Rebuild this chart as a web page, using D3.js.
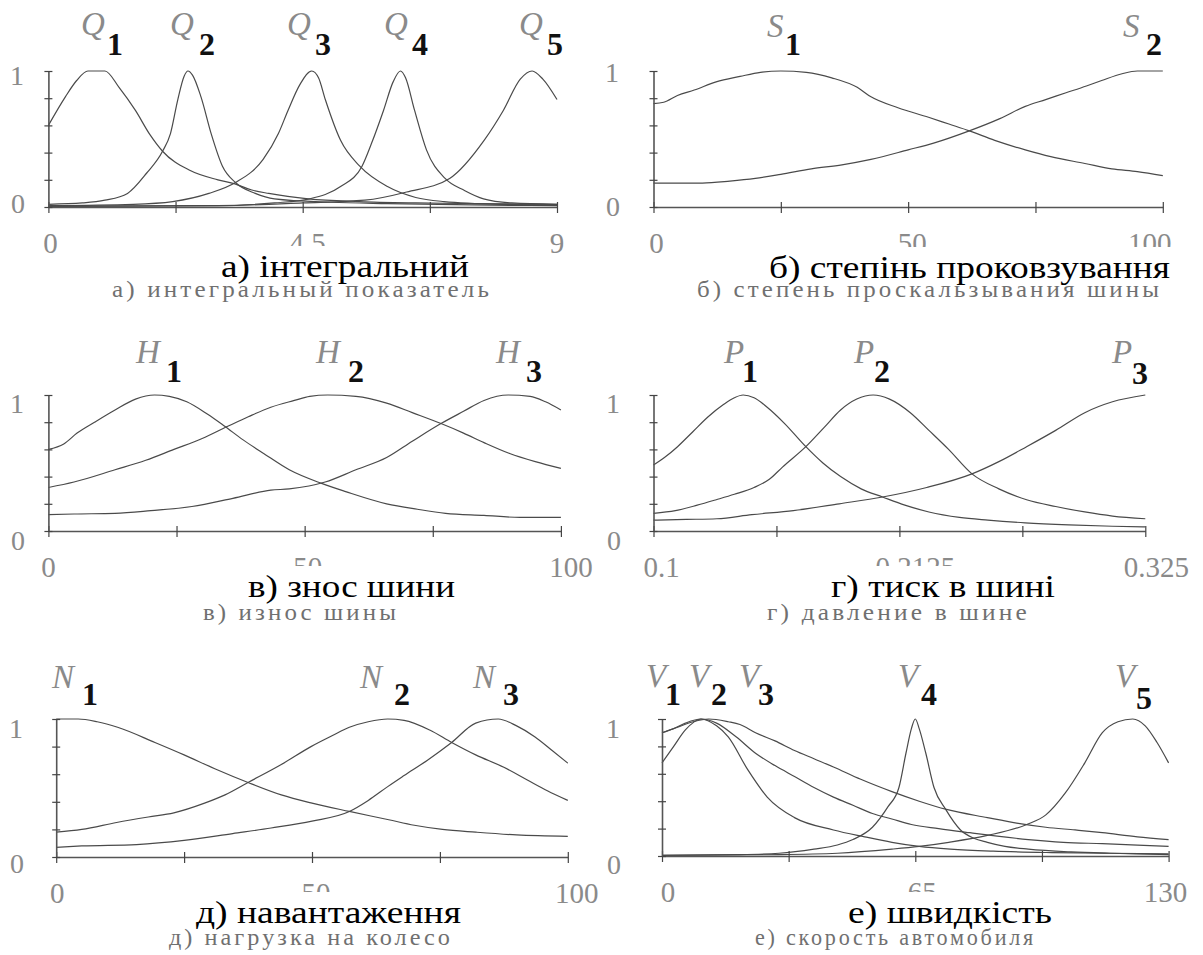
<!DOCTYPE html>
<html>
<head>
<meta charset="utf-8">
<script src="https://cdn.jsdelivr.net/npm/d3@7"></script>
<style>
  html, body { margin: 0; padding: 0; background: #fff; }
  svg { display: block; }
</style>
</head>
<body>
<svg id="chart" width="1203" height="955"></svg>
<script>
// ---- membership functions, points as [x, μ] ----

// а) integral index, x in [0, 9]
const Q1 = [[0,0.60],[0.3,0.81],[0.5,0.93],[0.7,1.0],[1.0,1.0],[1.25,0.88],[1.54,0.71],[1.8,0.53],[2.02,0.41],[2.5,0.27],[3.0,0.20],[3.3,0.17],[3.6,0.125],[3.9,0.10],[4.6,0.06],[5.5,0.04],[6.5,0.03],[7.5,0.025],[9,0.02]];
const Q2 = [[0,0.02],[0.6,0.03],[1.0,0.05],[1.4,0.10],[1.74,0.25],[2.02,0.41],[2.16,0.54],[2.29,0.79],[2.4,0.96],[2.47,1.0],[2.55,0.97],[2.7,0.81],[2.88,0.54],[3.08,0.30],[3.31,0.18],[3.66,0.10],[4.0,0.06],[5,0.035],[6,0.025],[7.5,0.015],[9,0.01]];
const Q3 = [[0,0.01],[1.5,0.02],[2.2,0.04],[2.84,0.10],[3.31,0.18],[3.8,0.35],[4.07,0.54],[4.24,0.71],[4.45,0.90],[4.66,1.0],[4.78,0.95],[4.9,0.79],[5.17,0.49],[5.51,0.30],[6.0,0.15],[6.5,0.07],[7.0,0.04],[8,0.02],[9,0.015]];
const Q4 = [[0,0.005],[3,0.01],[4.0,0.03],[4.62,0.06],[5.17,0.15],[5.55,0.30],[5.72,0.47],[5.93,0.71],[6.1,0.92],[6.23,1.0],[6.32,0.95],[6.48,0.71],[6.69,0.42],[7.02,0.21],[7.37,0.12],[7.7,0.06],[8.2,0.03],[9,0.02]];
const Q5 = [[0,0.005],[3,0.01],[4.5,0.03],[5.6,0.05],[6.34,0.11],[7.1,0.21],[7.71,0.49],[8.05,0.71],[8.35,0.94],[8.56,1.0],[8.75,0.94],[9,0.79]];

// б) tyre slip, x in [0, 100]
const S1 = [[0,0.76],[2,0.77],[4.7,0.82],[8,0.86],[12.3,0.92],[17,0.96],[21,0.99],[25,1.0],[30,0.99],[35,0.95],[40,0.88],[42.7,0.81],[48,0.73],[54,0.66],[58,0.61],[62,0.56],[67,0.49],[73,0.42],[78,0.37],[84.7,0.32],[90,0.28],[95,0.26],[100,0.23]];
const S2 = [[0,0.176],[9.6,0.176],[15,0.19],[20,0.21],[25,0.24],[31,0.28],[37,0.31],[42.7,0.35],[50,0.42],[55,0.47],[62,0.56],[68,0.65],[73,0.74],[77,0.79],[81,0.84],[85,0.89],[88,0.93],[92,0.98],[95,1.0],[100,1.0]];

// в) tyre wear, x in [0, 100]
const H1 = [[0,0.60],[3,0.64],[5.6,0.72],[9,0.80],[13,0.89],[17,0.97],[20.7,1.0],[23.6,0.99],[27,0.95],[31,0.86],[34.4,0.77],[38,0.67],[42,0.57],[47,0.45],[53.3,0.35],[58,0.29],[66,0.20],[72,0.16],[77.5,0.13],[85,0.115],[92,0.10],[100,0.10]];
const H2 = [[0,0.32],[5,0.36],[13,0.45],[19,0.52],[24.5,0.60],[30,0.68],[35,0.77],[39,0.84],[43.4,0.91],[48,0.96],[51,0.99],[54.5,1.0],[60,0.99],[66,0.94],[71,0.87],[76.6,0.79],[81,0.72],[85,0.65],[90,0.57],[95,0.51],[100,0.46]];
const H3 = [[0,0.12],[5,0.125],[13,0.13],[20,0.15],[28,0.18],[36,0.24],[43.4,0.30],[47,0.31],[54,0.36],[60,0.45],[66,0.54],[71,0.66],[76.6,0.79],[81,0.88],[85,0.96],[89.7,1.0],[94,0.99],[97,0.95],[100,0.89]];

// г) tyre pressure, x in [0.1, 0.325]
const P1 = [[0.1,0.485],[0.105,0.54],[0.111,0.62],[0.118,0.73],[0.125,0.84],[0.132,0.93],[0.137,0.98],[0.141,1.0],[0.146,0.98],[0.152,0.91],[0.16,0.79],[0.1697,0.62],[0.1775,0.50],[0.1856,0.40],[0.195,0.31],[0.2048,0.25],[0.215,0.19],[0.226,0.14],[0.24,0.10],[0.253,0.08],[0.27,0.06],[0.29,0.045],[0.31,0.035],[0.325,0.03]];
const P2 = [[0.1,0.13],[0.11,0.15],[0.12,0.19],[0.1287,0.23],[0.137,0.27],[0.146,0.32],[0.153,0.38],[0.159,0.47],[0.1697,0.62],[0.178,0.76],[0.1856,0.89],[0.193,0.97],[0.2005,1.0],[0.208,0.97],[0.2175,0.87],[0.226,0.74],[0.235,0.60],[0.2457,0.42],[0.258,0.31],[0.2707,0.23],[0.284,0.18],[0.2973,0.14],[0.31,0.11],[0.325,0.09]];
const P3 = [[0.1,0.08],[0.115,0.085],[0.129,0.09],[0.145,0.12],[0.164,0.15],[0.185,0.20],[0.2048,0.25],[0.225,0.32],[0.2457,0.42],[0.258,0.51],[0.2707,0.62],[0.284,0.74],[0.2973,0.87],[0.31,0.95],[0.325,1.0]];

// д) wheel load, x in [0, 100]
const N1 = [[0,1.0],[4.3,1.0],[8,0.98],[12,0.94],[19.3,0.83],[25,0.74],[31,0.64],[37.5,0.54],[44,0.45],[50,0.39],[57.3,0.33],[65,0.27],[70,0.23],[75.5,0.20],[82,0.18],[90,0.16],[100,0.15]];
const N2 = [[0,0.18],[5,0.20],[11.8,0.25],[18,0.29],[23,0.32],[29,0.39],[33,0.45],[37.5,0.54],[44,0.67],[49.8,0.80],[54,0.88],[57.3,0.94],[61,0.98],[64.8,1.0],[68,0.99],[73,0.92],[77.3,0.83],[82,0.74],[87.5,0.65],[92,0.56],[96,0.48],[100,0.41]];
const N3 = [[0,0.07],[5,0.08],[15.7,0.09],[25,0.12],[34.5,0.17],[42,0.21],[50,0.26],[57.3,0.33],[61,0.41],[64.8,0.51],[68,0.59],[72.5,0.70],[77.3,0.83],[82,0.97],[86.4,1.0],[90,0.95],[93.6,0.87],[97,0.77],[100,0.68]];

// е) vehicle speed, x in [0, 130]
const V1 = [[0,0.90],[3,0.93],[6,0.97],[10,1.0],[14,0.95],[17,0.87],[22,0.63],[27,0.43],[34,0.28],[44,0.19],[52,0.14],[59,0.10],[66,0.07],[74,0.05],[85,0.035],[100,0.025],[115,0.02],[130,0.015]];
const V2 = [[0,0.68],[3,0.80],[6,0.92],[10,1.0],[14,0.97],[19,0.87],[24,0.75],[29,0.66],[34,0.58],[39,0.50],[44,0.43],[49,0.37],[54,0.31],[59,0.27],[64,0.23],[71,0.20],[79,0.17],[86,0.145],[94,0.12],[103,0.10],[113,0.09],[122,0.08],[130,0.07]];
const V3 = [[0,0.90],[4,0.94],[8,0.98],[12,1.0],[17,0.98],[20,0.96],[24,0.90],[29,0.84],[34,0.77],[39,0.71],[44,0.65],[51,0.56],[59,0.47],[66,0.40],[73,0.34],[83.5,0.28],[91,0.24],[98.5,0.21],[106,0.19],[113,0.17],[122,0.14],[130,0.12]];
const V4 = [[0,0.005],[20,0.01],[30,0.02],[39,0.05],[45,0.08],[49,0.12],[54,0.21],[58,0.36],[60.8,0.50],[62.6,0.75],[64,0.93],[65,1.0],[66,0.93],[67.7,0.75],[69.8,0.50],[72.8,0.34],[76.6,0.19],[80,0.13],[83.5,0.10],[88,0.07],[94,0.05],[105,0.03],[115,0.02],[130,0.01]];
const V5 = [[0,0.005],[30,0.01],[45,0.02],[59,0.05],[66,0.07],[73.6,0.10],[83.5,0.15],[93.6,0.23],[98.5,0.30],[103.5,0.46],[108.5,0.68],[113,0.90],[117,0.98],[120.8,1.0],[124,0.95],[127,0.83],[130,0.68]];

// ---- axis domains and tick labels ----
const domainA = [0, 9],      ticksA = [0, 4.5, 9],          tickTextA = ["0", "4.5", "9"];
const domainB = [0, 100],    ticksB = [0, 50, 100],         tickTextB = ["0", "50", "100"];
const domainC = [0, 100],    ticksC = [0, 50, 100],         tickTextC = ["0", "50", "100"];
const domainD = [0.1, 0.325],ticksD = [0.1, 0.2125, 0.325], tickTextD = ["0.1", "0.2125", "0.325"];
const domainE = [0, 100],    ticksE = [0, 50, 100],         tickTextE = ["0", "50", "100"];
const domainF = [0, 130],    ticksF = [0, 65, 130],         tickTextF = ["0", "65", "130"];

// ---- curve names (letter + subscript) ----
const namesA = [["Q","1"],["Q","2"],["Q","3"],["Q","4"],["Q","5"]];
const namesB = [["S","1"],["S","2"]];
const namesC = [["H","1"],["H","2"],["H","3"]];
const namesD = [["P","1"],["P","2"],["P","3"]];
const namesE = [["N","1"],["N","2"],["N","3"]];
const namesF = [["V","1"],["V","2"],["V","3"],["V","4"],["V","5"]];

// ---- captions ----
const titlesUA = ["а) інтегральний", "б) степінь проковзування", "в) знос шини", "г) тиск в шині", "д) навантаження", "е) швидкість"];
const titlesRU = ["а) интегральный показатель", "б) степень проскальзывания шины", "в) износ шины", "г) давление в шине", "д) нагрузка на колесо", "е) скорость автомобиля"];

// ---- layout of the six panels ----
const panels = [
  { curves:[Q1,Q2,Q3,Q4,Q5], names:namesA, domain:domainA, ticks:ticksA, tickText:tickTextA,
    xr:[48.4,557], yr:[207,71], tickDx:[2,5,0], yLabX:24, y1dy:14, y0dy:6,
    nameAt:[[83,35,108,55],[172,35,200,55],[289,35,316,55],[386,35,413,55],[521,35,548,55]],
    ua:[221,469,277], ru:[112,492,297] },
  { curves:[S1,S2], names:namesB, domain:domainB, ticks:ticksB, tickText:tickTextB,
    xr:[653.5,1162.8], yr:[207,71], tickDx:[3,4,-13], yLabX:619, y1dy:11, y0dy:9,
    nameAt:[[769,37,786,55],[1125,37,1147,55]],
    ua:[769,1170,278], ru:[697,1162,297] },
  { curves:[H1,H2,H3], names:namesC, domain:domainC, ticks:ticksC, tickText:tickTextC,
    xr:[48.4,560.9], yr:[531,395], tickDx:[0,3,10], yLabX:24, y1dy:18, y0dy:19,
    nameAt:[[138,363,167,382],[318,363,349,382],[498,363,527,382]],
    ua:[248,455,597], ru:[203,399,620] },
  { curves:[P1,P2,P3], names:namesD, domain:domainD, ticks:ticksD, tickText:tickTextD,
    xr:[653.5,1145.3], yr:[531,395], tickDx:[8,16,11], yLabX:620, y1dy:18, y0dy:19,
    nameAt:[[726,363,743,382],[856,363,875,382],[1114,363,1133,384]],
    ua:[831,1055,597], ru:[767,1030,620] },
  { curves:[N1,N2,N3], names:namesE, domain:domainE, ticks:ticksE, tickText:tickTextE,
    xr:[56.2,567.8], yr:[857,719], tickDx:[1,4,9], yLabX:23, y1dy:19, y0dy:16,
    nameAt:[[54,688,83,705],[362,688,395,705],[475,688,504,705]],
    ua:[196,461,923], ru:[169,453,945] },
  { curves:[V1,V2,V3,V4,V5], names:namesF, domain:domainF, ticks:ticksF, tickText:tickTextF,
    xr:[662,1168.6], yr:[856,719], tickDx:[6,7,-3], yLabX:620, y1dy:19, y0dy:18,
    nameAt:[[648,687,666,705],[691,687,712,705],[741,687,759,705],[900,687,922,705],[1117,687,1137,709]],
    ua:[848,1052,923], ru:[755,1036,945] }
];

const svg = d3.select("#chart");
const serif = '"Liberation Serif", serif';

panels.forEach((p, i) => {
  const g = svg.append("g");
  const x = d3.scaleLinear().domain(p.domain).range(p.xr);
  const y = d3.scaleLinear().domain([0, 1]).range(p.yr);

  // curves
  const line = d3.line().x(d => x(d[0])).y(d => y(d[1])).curve(d3.curveMonotoneX);
  g.selectAll("path.mf").data(p.curves).enter().append("path")
    .attr("class", "mf")
    .attr("d", line)
    .attr("fill", "none")
    .attr("stroke", "#4a4a4a")
    .attr("stroke-width", 1.2);

  // x axis: baseline with 5 ticks crossing it
  const xAxis = d3.axisBottom(x)
    .tickValues(d3.range(5).map(k => p.domain[0] + k * (p.domain[1] - p.domain[0]) / 4))
    .tickFormat("").tickSizeInner(6).tickSizeOuter(0);
  const gx = g.append("g").attr("transform", `translate(0,${y(0)})`).call(xAxis);
  gx.select(".domain").attr("stroke", "#555").attr("stroke-width", 1.6);
  gx.selectAll(".tick line").attr("stroke", "#444").attr("stroke-width", 1.2).attr("y1", -5).attr("y2", 6);

  // y axis: vertical line with cross ticks every 0.2
  const yAxis = d3.axisLeft(y).tickValues(d3.range(0, 1.01, 0.2)).tickFormat("").tickSizeInner(4).tickSizeOuter(0);
  const gy = g.append("g").attr("transform", `translate(${x(p.domain[0])},0)`).call(yAxis);
  gy.select(".domain").attr("stroke", "#555").attr("stroke-width", 1.6);
  gy.selectAll(".tick line").attr("stroke", "#444").attr("stroke-width", 1.2).attr("x1", 4).attr("x2", -4);

  const txt = sel => sel.style("font-family", serif);

  // y labels
  g.append("text").call(txt).attr("x", p.yLabX).attr("y", y(1) + p.y1dy).attr("text-anchor", "end")
    .attr("font-size", 28).attr("fill", "#8a8a8a").text("1");
  g.append("text").call(txt).attr("x", p.yLabX + 1).attr("y", y(0) + p.y0dy).attr("text-anchor", "end")
    .attr("font-size", 28).attr("fill", "#8a8a8a").text("0");

  // x tick labels
  g.selectAll("text.xl").data(p.ticks).enter().append("text")
    .attr("class", "xl").call(txt)
    .attr("x", (d, k) => x(d) + p.tickDx[k])
    .attr("y", y(0) + 46)
    .attr("text-anchor", "middle")
    .attr("font-size", 29).attr("fill", "#8a8a8a")
    .text((d, k) => p.tickText[k]);

  // curve names
  p.names.forEach((nm, k) => {
    const a = p.nameAt[k];
    g.append("text").call(txt).attr("x", a[0] - 2).attr("y", a[1])
      .attr("font-style", "italic").attr("font-size", 33)
      .attr("fill", "#8a8a8a").text(nm[0]);
    g.append("text").call(txt).attr("x", a[2] - 1).attr("y", a[3])
      .attr("font-weight", "bold").attr("font-size", 32)
      .attr("fill", "#111").text(nm[1]);
  });

  // caption box (sits over the middle tick label), Ukrainian caption, Russian caption
  const ua = p.ua, ru = p.ru;
  g.append("rect").attr("x", ua[0] - 3).attr("y", ua[2] - 31)
    .attr("width", ua[1] - ua[0] + 6).attr("height", 38).attr("fill", "#fff");
  g.append("text").call(txt).attr("x", ua[0]).attr("y", ua[2])
    .attr("font-size", 32).attr("fill", "#000")
    .attr("textLength", ua[1] - ua[0]).attr("lengthAdjust", "spacingAndGlyphs")
    .text(titlesUA[i]);
  g.append("text").call(txt).attr("x", ru[0]).attr("y", ru[2])
    .attr("font-size", 24).attr("fill", "#707070")
    .style("letter-spacing", "3px")
    .attr("textLength", ru[1] - ru[0]).attr("lengthAdjust", "spacingAndGlyphs")
    .text(titlesRU[i]);
});
</script>
</body>
</html>
